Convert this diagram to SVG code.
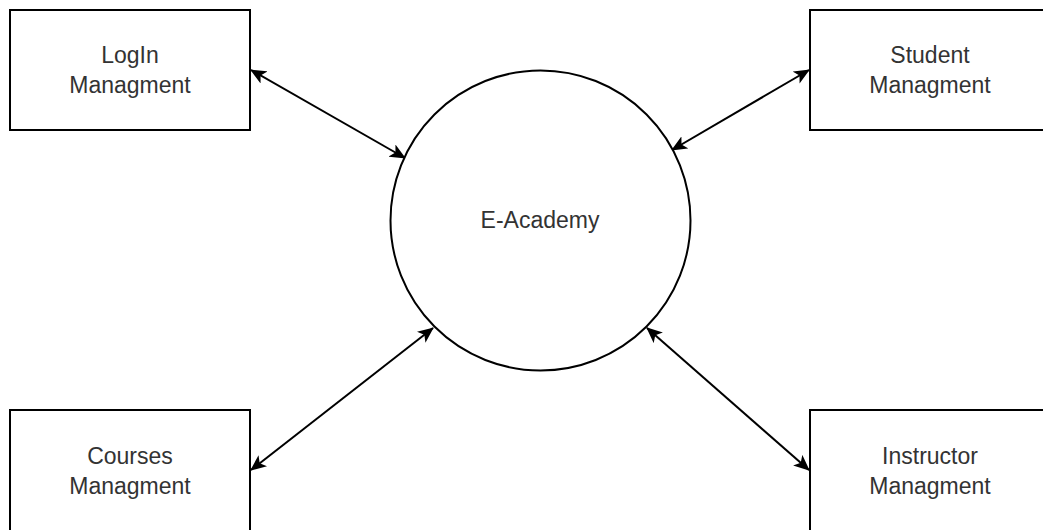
<svg xmlns="http://www.w3.org/2000/svg" width="1043" height="530" viewBox="0 0 1043 530">
<style>
.box{fill:#fff;stroke:#000;stroke-width:2}
.lbl{font-family:"Liberation Sans",Arial,sans-serif;font-size:23px;fill:#333;text-anchor:middle}
.edge{fill:none;stroke:#000;stroke-width:2}
</style>
<defs>
<marker id="arr" viewBox="0 0 16 14" refX="15" refY="7" markerWidth="16" markerHeight="14" markerUnits="userSpaceOnUse" orient="auto-start-reverse">
<path d="M0,0 L16,7 L0,14 L4,7 z" fill="#000"/>
</marker>
</defs>
<rect width="1043" height="530" fill="#fff"/>
<g id="connectors">
<line class="edge" x1="251" y1="70" x2="405" y2="158" marker-start="url(#arr)" marker-end="url(#arr)"/>
<line class="edge" x1="809" y1="70" x2="672" y2="150" marker-start="url(#arr)" marker-end="url(#arr)"/>
<line class="edge" x1="251" y1="470" x2="433" y2="328" marker-start="url(#arr)" marker-end="url(#arr)"/>
<line class="edge" x1="809" y1="470" x2="647" y2="328" marker-start="url(#arr)" marker-end="url(#arr)"/>
</g>
<g id="login">
<rect class="box" x="10" y="10" width="240" height="120"/>
<text class="lbl" x="130" y="63">LogIn</text>
<text class="lbl" x="130" y="93">Managment</text>
</g>
<g id="student">
<rect class="box" x="810" y="10" width="240" height="120"/>
<text class="lbl" x="930" y="63">Student</text>
<text class="lbl" x="930" y="93">Managment</text>
</g>
<g id="courses">
<rect class="box" x="10" y="410" width="240" height="130"/>
<text class="lbl" x="130" y="464">Courses</text>
<text class="lbl" x="130" y="494">Managment</text>
</g>
<g id="instructor">
<rect class="box" x="810" y="410" width="240" height="130"/>
<text class="lbl" x="930" y="464">Instructor</text>
<text class="lbl" x="930" y="494">Managment</text>
</g>
<g id="eacademy">
<circle class="box" cx="540.5" cy="220.5" r="150"/>
<text class="lbl" x="540" y="228">E-Academy</text>
</g>
</svg>
